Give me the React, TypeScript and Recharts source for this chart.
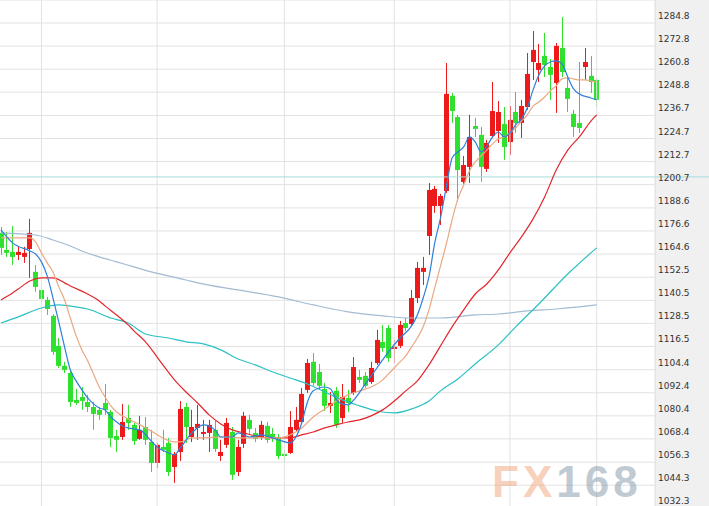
import React from "react";
import {
  ComposedChart,
  Bar,
  Line,
  XAxis,
  YAxis,
  CartesianGrid,
  ReferenceLine,
} from "recharts";

// ---- candle values (index 0 = leftmost visible candle) ----
const opens = [
  1175.6, 1166.7, 1165.7, 1164.1, 1163.1, 1167.2, 1155.3, 1145.9, 1140.7, 1132.4,
  1116.8, 1106.4, 1102.7, 1088.7, 1090.2, 1087.6, 1085.0, 1083.5, 1087.1, 1082.4,
  1069.9, 1069.4, 1079.3, 1075.7, 1068.4, 1074.6, 1066.8, 1055.9, 1064.2, 1066.3,
  1053.8, 1061.6, 1085.0, 1069.4, 1074.1, 1071.0, 1071.5, 1073.1, 1059.5, 1065.3,
  1072.0, 1051.2, 1065.8, 1078.3, 1071.5, 1069.4, 1075.2, 1071.0, 1068.9, 1060.6,
  1061.1, 1073.1, 1077.2, 1093.9, 1108.5, 1103.2, 1094.4, 1085.6, 1093.4, 1079.3,
  1089.7, 1092.3, 1100.6, 1101.2, 1098.0, 1107.9, 1118.8, 1126.1, 1115.2, 1116.8,
  1128.7, 1128.2, 1141.7, 1155.3, 1174.0, 1189.6, 1189.6, 1197.4, 1246.9, 1235.9,
  1202.1, 1209.9, 1231.2, 1226.6, 1208.9, 1226.0, 1228.6, 1232.3, 1222.9, 1238.5,
  1232.8, 1241.1, 1264.5, 1260.4, 1267.7, 1261.9, 1253.6, 1271.8, 1251.0, 1237.5,
  1232.8, 1261.9, 1257.3, 1255.2,
];
const closes = [
  1167.8, 1165.2, 1163.1, 1165.7, 1165.2, 1175.6, 1147.5, 1141.2, 1136.0, 1113.7,
  1106.4, 1104.3, 1087.6, 1087.1, 1088.2, 1085.0, 1081.4, 1080.9, 1083.5, 1068.9,
  1067.9, 1077.2, 1076.7, 1067.3, 1073.1, 1067.9, 1055.9, 1065.3, 1062.7, 1051.2,
  1060.6, 1084.0, 1074.6, 1074.6, 1076.2, 1072.0, 1075.7, 1063.2, 1061.6, 1076.7,
  1049.7, 1064.2, 1080.4, 1073.6, 1068.4, 1075.7, 1067.9, 1069.4, 1059.5, 1059.5,
  1074.6, 1078.3, 1091.8, 1107.9, 1097.5, 1096.0, 1085.6, 1087.1, 1075.7, 1090.2,
  1087.1, 1105.8, 1099.1, 1096.0, 1105.3, 1119.9, 1115.7, 1110.5, 1116.3, 1127.7,
  1126.1, 1141.7, 1157.4, 1157.4, 1197.9, 1198.5, 1194.8, 1247.9, 1239.0, 1208.3,
  1210.9, 1225.5, 1229.7, 1209.9, 1222.4, 1239.0, 1238.5, 1220.3, 1234.4, 1232.8,
  1241.6, 1258.3, 1270.8, 1264.0, 1263.0, 1257.8, 1272.9, 1259.3, 1245.3, 1230.7,
  1230.2, 1264.5, 1254.1, 1244.8,
];
const highs = [
  1178.7, 1176.1, 1179.2, 1168.8, 1168.3, 1182.9, 1158.9, 1148.5, 1142.3, 1133.4,
  1120.9, 1108.5, 1104.8, 1094.4, 1095.4, 1091.3, 1087.6, 1085.0, 1097.0, 1083.5,
  1073.1, 1086.6, 1086.1, 1076.7, 1080.4, 1079.8, 1073.1, 1066.3, 1073.1, 1068.9,
  1061.6, 1088.1, 1087.1, 1083.5, 1086.1, 1078.3, 1078.3, 1077.8, 1067.9, 1079.3,
  1074.6, 1067.9, 1082.4, 1080.9, 1074.1, 1077.8, 1077.2, 1074.1, 1071.0, 1062.7,
  1082.9, 1085.0, 1094.9, 1110.0, 1113.1, 1107.4, 1097.5, 1092.8, 1095.4, 1097.0,
  1093.9, 1111.0, 1104.3, 1103.2, 1108.5, 1125.1, 1127.7, 1127.7, 1119.9, 1129.8,
  1131.3, 1145.9, 1160.5, 1163.1, 1201.6, 1200.0, 1195.9, 1264.0, 1248.4, 1237.0,
  1215.6, 1237.0, 1235.4, 1230.7, 1224.0, 1254.1, 1244.2, 1241.1, 1241.6, 1248.9,
  1244.8, 1269.2, 1280.7, 1273.9, 1279.6, 1266.1, 1274.4, 1287.9, 1256.7, 1239.6,
  1264.5, 1271.8, 1267.7, 1256.2,
];
const lows = [
  1164.1, 1163.1, 1158.9, 1161.5, 1160.0, 1152.2, 1144.9, 1139.1, 1132.9, 1112.1,
  1105.3, 1102.7, 1085.0, 1086.1, 1083.5, 1082.4, 1073.1, 1078.3, 1080.9, 1064.2,
  1061.6, 1067.9, 1073.1, 1065.3, 1067.9, 1065.3, 1051.2, 1053.3, 1061.6, 1049.1,
  1045.5, 1056.9, 1066.3, 1066.8, 1067.9, 1067.9, 1061.6, 1061.6, 1056.9, 1063.7,
  1047.1, 1049.1, 1063.7, 1071.0, 1066.8, 1067.9, 1066.3, 1066.8, 1057.9, 1056.4,
  1060.6, 1072.0, 1076.2, 1092.3, 1096.0, 1093.9, 1082.9, 1081.9, 1074.1, 1076.7,
  1082.4, 1091.3, 1097.5, 1094.9, 1097.0, 1106.9, 1113.7, 1108.5, 1107.9, 1115.7,
  1124.6, 1127.2, 1139.1, 1148.5, 1164.1, 1186.0, 1179.7, 1196.4, 1232.8, 1191.7,
  1201.1, 1201.6, 1225.5, 1202.1, 1207.3, 1225.0, 1222.4, 1213.6, 1216.2, 1227.6,
  1225.0, 1239.6, 1255.2, 1254.1, 1256.7, 1244.8, 1238.0, 1256.7, 1238.5, 1225.5,
  1227.6, 1255.2, 1248.4, 1241.1,
];

// ---- moving-average lines, read as [candle index, value] ----
const ma5Pts: [number, number][] = [
  [0, 1177.1], [2, 1170.4], [5, 1166.2], [6, 1164.6], [7, 1160.5], [8, 1153.2], [9, 1141.7],
  [10, 1129.3], [11, 1116.3], [12, 1104.3], [13, 1098.6], [14, 1093.9], [15, 1089.7], [16, 1086.6],
  [17, 1084.5], [18, 1083.5], [19, 1079.8], [20, 1077.2], [21, 1075.1], [22, 1074.1], [24, 1073.1],
  [26, 1067.3], [27, 1064.2], [29, 1061.1], [30, 1060.1], [31, 1063.7], [33, 1071.5], [35, 1075.7],
  [37, 1073.1], [38, 1069.4], [40, 1069.4], [41, 1071.5], [43, 1069.4], [45, 1070.5], [47, 1068.9],
  [48, 1067.9], [50, 1066.3], [51, 1069.4], [52, 1076.7], [53, 1087.6], [54, 1093.4], [56, 1095.4],
  [57, 1094.4], [58, 1088.7], [59, 1086.6], [60, 1086.1], [61, 1088.7], [63, 1097.0], [65, 1105.3],
  [67, 1113.7], [69, 1120.9], [71, 1127.2], [72, 1132.9], [73, 1141.7], [74, 1152.7], [75, 1170.4],
  [76, 1183.4], [77, 1199.5], [78, 1214.6], [79, 1217.7], [80, 1220.3], [81, 1225.5], [82, 1222.9],
  [83, 1217.7], [84, 1220.8], [85, 1225.5], [86, 1228.1], [87, 1225.5], [88, 1227.6], [89, 1231.8],
  [90, 1234.9], [91, 1240.6], [92, 1250.0], [93, 1257.8], [94, 1262.5], [95, 1264.5], [96, 1265.1],
  [97, 1263.5], [98, 1256.7], [99, 1250.5], [100, 1247.9], [102, 1245.8], [103, 1244.8],
];
const ma10Pts: [number, number][] = [
  [0, 1173.0], [5, 1173.0], [6, 1170.9], [7, 1165.2], [8, 1160.0], [9, 1155.3], [10, 1147.5],
  [11, 1140.7], [12, 1131.3], [13, 1122.0], [14, 1114.7], [15, 1109.0], [16, 1102.2], [17, 1095.4],
  [18, 1090.2], [19, 1085.6], [20, 1082.4], [22, 1078.8], [24, 1075.7], [26, 1072.5], [28, 1068.9],
  [30, 1066.8], [31, 1066.8], [33, 1068.9], [35, 1068.9], [38, 1069.4], [42, 1068.9], [46, 1068.9],
  [48, 1068.9], [50, 1070.5], [52, 1074.1], [54, 1079.8], [56, 1084.0], [58, 1088.1], [60, 1091.3],
  [62, 1093.4], [64, 1095.4], [66, 1099.1], [67, 1102.2], [68, 1105.3], [69, 1108.5], [70, 1111.6],
  [71, 1116.3], [72, 1120.9], [73, 1126.7], [74, 1135.5], [75, 1147.0], [76, 1158.4], [77, 1169.8],
  [78, 1182.3], [79, 1193.3], [80, 1200.5], [81, 1207.8], [82, 1212.5], [83, 1215.6], [84, 1218.7],
  [85, 1221.9], [86, 1224.5], [87, 1225.5], [88, 1227.6], [89, 1230.2], [90, 1233.8], [91, 1237.0],
  [92, 1241.6], [93, 1243.7], [94, 1246.3], [95, 1249.5], [96, 1252.1], [97, 1255.7], [98, 1256.2],
  [99, 1255.7], [100, 1255.2], [101, 1255.2], [102, 1254.7], [103, 1254.1],
];
const ma20Pts: [number, number][] = [
  [0, 1140.7], [2, 1144.3], [3, 1146.4], [5, 1150.6], [7, 1152.2], [9, 1152.2], [11, 1149.6],
  [12, 1148.0], [15, 1143.8], [17, 1140.2], [18, 1137.6], [20, 1132.9], [22, 1127.7], [23, 1124.6],
  [25, 1118.9], [27, 1111.0], [28, 1106.9], [30, 1099.1], [32, 1092.8], [34, 1087.1], [36, 1080.9],
  [38, 1076.2], [40, 1073.1], [42, 1071.5], [44, 1069.9], [47, 1068.9], [50, 1068.9], [52, 1070.5],
  [54, 1072.0], [56, 1074.1], [58, 1075.7], [60, 1077.2], [62, 1078.3], [64, 1080.4], [66, 1083.5],
  [68, 1088.1], [70, 1093.4], [72, 1098.6], [74, 1106.9], [76, 1116.8], [78, 1126.7], [80, 1135.5],
  [82, 1143.8], [84, 1149.0], [86, 1156.3], [88, 1165.2], [90, 1173.5], [92, 1182.9], [94, 1194.3],
  [96, 1208.3], [98, 1218.7], [100, 1225.5], [102, 1233.8], [103, 1237.0],
];
const ma60Pts: [number, number][] = [
  [0, 1128.7], [3, 1131.9], [7, 1136.5], [10, 1138.1], [13, 1137.1], [15, 1136.0], [19, 1131.3],
  [22, 1128.7], [25, 1123.0], [29, 1120.9], [32, 1118.9], [35, 1117.8], [38, 1114.7], [41, 1110.0],
  [44, 1106.9], [47, 1103.2], [50, 1100.1], [53, 1097.0], [56, 1092.8], [59, 1088.7], [62, 1085.6],
  [65, 1082.9], [68, 1081.9], [71, 1084.0], [74, 1088.1], [76, 1093.4], [79, 1099.6], [82, 1107.4],
  [86, 1117.3], [89, 1126.7], [93, 1138.6], [98, 1154.2], [103, 1167.8],
];
const ma120Pts: [number, number][] = [
  [0, 1175.6], [6, 1174.5], [9, 1171.9], [12, 1168.8], [14, 1166.2], [17, 1163.1], [20, 1160.5],
  [23, 1157.9], [26, 1155.3], [32, 1151.1], [34, 1149.6], [41, 1145.9], [48, 1142.3], [54, 1138.1],
  [60, 1134.5], [66, 1132.4], [71, 1131.3], [76, 1131.3], [82, 1132.9], [86, 1133.4], [91, 1135.0],
  [96, 1136.0], [100, 1137.1], [103, 1138.1],
];

const yTicks = [
  1284.8, 1272.8, 1260.8, 1248.8, 1236.7, 1224.7, 1212.7, 1200.7, 1188.6, 1176.6, 1164.6,
  1152.5, 1140.5, 1128.5, 1116.5, 1104.4, 1092.4, 1080.4, 1068.4, 1056.3, 1044.3, 1032.3,
];
const monthStarts = [7, 27, 49, 68, 88, 103];
const markLevel = 1204.7;

const RED = "#ec1a1a";
const GREEN = "#2fe02f";

const data = opens.map((o, i) => ({
  i,
  open: o,
  close: closes[i],
  high: highs[i],
  low: lows[i],
}));

const toLine = (pts: [number, number][]) => pts.map(([i, v]) => ({ i, v }));
const lines = [
  { name: "ma120", pts: ma120Pts, color: "#a3bbd3" },
  { name: "ma60", pts: ma60Pts, color: "#2cc0c2" },
  { name: "ma20", pts: ma20Pts, color: "#e3262c" },
  { name: "ma10", pts: ma10Pts, color: "#eaa882" },
  { name: "ma5", pts: ma5Pts, color: "#2f80da" },
];

const Candle = (props: any) => {
  const { x, y, width, height, payload } = props;
  if (!payload || x == null) return null;
  const { open, close, high, low } = payload;
  const up = close >= open;
  const color = up ? RED : GREEN;
  const h = Math.abs(height);
  const top = height >= 0 ? y : y + height;
  const range = high - low;
  const k = range > 0 ? h / range : 0;
  const bodyTop = top + (high - Math.max(open, close)) * k;
  const bodyH = Math.max(1.5, Math.abs(open - close) * k);
  const cx = x + width / 2;
  const wx = Math.round(cx - 0.5) + 0.5;
  return (
    <g>
      <line x1={wx} x2={wx} y1={top} y2={top + h} stroke={color} strokeWidth={1} />
      <rect x={wx - 2.5} y={bodyTop} width={5} height={bodyH} fill={color} />
    </g>
  );
};

const renderTick = (p: any) => (
  <text
    x={p.x + 3}
    y={p.y - 4}
    fontSize={9}
    fontFamily="DejaVu Sans, Verdana, sans-serif"
    fill="#333"
    textAnchor="start"
  >
    {Number(p.payload.value).toFixed(1)}
  </text>
);

export default function App() {
  return (
    <div
      style={{
        position: "absolute",
        left: 0,
        top: 0,
        width: 709,
        height: 506,
        overflow: "hidden",
        background: "#fff",
      }}
    >
      <div
        style={{
          position: "absolute",
          left: 655,
          top: 0,
          width: 54,
          height: 506,
          background: "#f0f0f0",
        }}
      />
      <div style={{ position: "absolute", left: 0, top: 0 }}>
        <ComposedChart
          width={709}
          height={520}
          data={data}
          margin={{ top: 0, right: 0, bottom: 0, left: 0 }}
        >
          <CartesianGrid horizontal vertical={false} stroke="#e2e2e2" />
          <XAxis
            dataKey="i"
            type="number"
            domain={[-0.1625, 113.08]}
            allowDataOverflow
            hide
          />
          <YAxis
            orientation="right"
            width={54}
            domain={[1026.2, 1296.77]}
            allowDataOverflow
            ticks={yTicks}
            interval={0}
            tickSize={0}
            tickMargin={0}
            tickLine={false}
            axisLine={{ stroke: "#dcdcdc" }}
            tick={renderTick}
          />
          {monthStarts.map((m) => (
            <ReferenceLine key={m} x={m} stroke="#e2e2e2" />
          ))}
          <ReferenceLine
            segment={[
              { x: -0.2, y: markLevel },
              { x: 122.6, y: markLevel },
            ]}
            ifOverflow="visible"
            stroke="#a8dcdc"
            strokeWidth={1}
          />
          <Bar
            dataKey={(d: any) => [d.low, d.high]}
            barSize={4}
            shape={<Candle />}
            isAnimationActive={false}
          />
          {lines.map((l) => (
            <Line
              key={l.name}
              data={toLine(l.pts)}
              dataKey="v"
              type="monotone"
              stroke={l.color}
              strokeWidth={1.2}
              dot={false}
              activeDot={false}
              isAnimationActive={false}
            />
          ))}
        </ComposedChart>
      </div>
      <div
        style={{
          position: "absolute",
          left: 492,
          top: 460,
          fontFamily: "Liberation Sans, Arial, sans-serif",
          fontWeight: 900,
          fontSize: 44,
          lineHeight: "44px",
          letterSpacing: 4,
          whiteSpace: "nowrap",
        }}
      >
        <span style={{ color: "rgba(240,170,130,0.55)" }}>FX</span>
        <span style={{ color: "rgba(130,150,165,0.5)" }}>168</span>
      </div>
    </div>
  );
}
